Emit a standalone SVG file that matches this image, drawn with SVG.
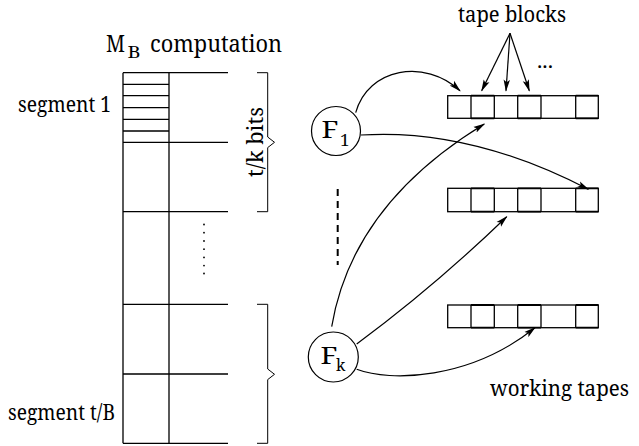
<svg xmlns="http://www.w3.org/2000/svg" width="639" height="446" viewBox="0 0 639 446">
<defs>
<marker id="ah" viewBox="0 0 12 8" refX="11" refY="4" markerWidth="12" markerHeight="8" markerUnits="userSpaceOnUse" orient="auto">
<path d="M0,0.8 L12,4 L0,7.2 L2.5,4 Z" fill="#000"/>
</marker>
</defs>
<style>
text{font-family:"Noto Serif","DejaVu Serif",serif;fill:#000}
.ln{stroke:#000;stroke-width:1.3;fill:none}
.th{stroke:#000;stroke-width:1;fill:none}
.cell{stroke:#000;stroke-width:1.3;fill:#fff}
.bold{stroke:#000;stroke-width:1.8;fill:none}
.con{stroke:#000;stroke-width:1.2;fill:none;marker-end:url(#ah)}
</style>
<rect width="639" height="446" fill="#fff"/>

<g id="table">
<text x="106" y="52" font-size="23" textLength="19" lengthAdjust="spacingAndGlyphs">M</text>
<text x="127.5" y="58" font-size="17" textLength="13" lengthAdjust="spacingAndGlyphs">B</text>
<text x="150" y="52" font-size="23" textLength="132" lengthAdjust="spacingAndGlyphs">computation</text>
<path class="ln" d="M123,72.7 V443.3 M169,72.7 V443.3"/>
<path class="ln" d="M123,72.7 H228 M123,84.3 H169 M123,95.7 H169 M123,107.7 H169 M123,119.3 H169 M123,131 H169 M123,142.3 H228 M123,211.7 H228 M123,304.3 H228 M123,374 H228 M123,443.3 H228"/>
<text x="18" y="112" font-size="22" textLength="93" lengthAdjust="spacingAndGlyphs">segment 1</text>
<text x="8" y="420" font-size="22" textLength="107" lengthAdjust="spacingAndGlyphs">segment t/B</text>
<g id="dots" fill="#000">
<circle cx="204" cy="224.5" r="0.9"/><circle cx="204" cy="232.7" r="0.9"/><circle cx="204" cy="241" r="0.9"/><circle cx="204" cy="249.2" r="0.9"/><circle cx="204" cy="257.4" r="0.9"/><circle cx="204" cy="265.6" r="0.9"/><circle cx="204" cy="273.5" r="0.9"/>
</g>
</g>

<g id="brace-top">
<path class="th" d="M257,72.7 H267.7 V137 L274.5,142.3 L267.7,147.6 V211.7 H257"/>
<text transform="translate(263,107) rotate(-90)" font-size="22" textLength="70" lengthAdjust="spacingAndGlyphs" x="-70" y="0">t/k bits</text>
</g>
<g id="brace-bottom">
<path class="th" d="M257,304.3 H267.7 V369 L274.5,374.3 L267.7,379.6 V443.3 H257"/>
</g>

<g id="F1">
<circle cx="336" cy="131" r="24.5" fill="#fff" stroke="#000" stroke-width="1.2"/>
<text x="321.5" y="138" font-size="24" textLength="17" lengthAdjust="spacingAndGlyphs">F</text>
<text x="340" y="146" font-size="17">1</text>
</g>
<g id="Fk">
<circle cx="333.3" cy="357" r="25" fill="#fff" stroke="#000" stroke-width="1.2"/>
<text x="320.5" y="364" font-size="24" textLength="17" lengthAdjust="spacingAndGlyphs">F</text>
<text x="336" y="371" font-size="16">k</text>
</g>
<path id="vdash" d="M337.7,189 V265" stroke="#000" stroke-width="2" stroke-dasharray="7,5" fill="none"/>

<g id="tape1">
<rect class="cell" x="447.7" y="95.7" width="150.6" height="22.6"/>
<path class="ln" d="M471,95.7 V118.3 M494.3,95.7 V118.3 M517.7,95.7 V118.3 M541,95.7 V118.3 M575.7,95.7 V118.3"/>
<path class="bold" d="M471,95.7 H494.3 M471,118.3 H494.3 M517.7,95.7 H541 M517.7,118.3 H541 M575.7,95.7 H598.3 M575.7,118.3 H598.3"/>
</g>
<g id="tape2">
<rect class="cell" x="447.7" y="188.3" width="150.6" height="23.4"/>
<path class="ln" d="M471,188.3 V211.7 M494.3,188.3 V211.7 M517.7,188.3 V211.7 M541,188.3 V211.7 M575.7,188.3 V211.7"/>
<path class="bold" d="M471,188.3 H494.3 M471,211.7 H494.3 M517.7,188.3 H541 M517.7,211.7 H541 M575.7,188.3 H598.3 M575.7,211.7 H598.3"/>
</g>
<g id="tape3">
<rect class="cell" x="447.7" y="305" width="150.6" height="22.7"/>
<path class="ln" d="M471,305 V327.7 M494.3,305 V327.7 M517.7,305 V327.7 M541,305 V327.7 M575.7,305 V327.7"/>
<path class="bold" d="M471,305 H494.3 M471,327.7 H494.3 M517.7,305 H541 M517.7,327.7 H541 M575.7,305 H598.3 M575.7,327.7 H598.3"/>
</g>

<g id="labels">
<text x="458" y="22" font-size="21" textLength="108" lengthAdjust="spacingAndGlyphs">tape blocks</text>
<text x="537" y="68" font-size="20" textLength="16" lengthAdjust="spacingAndGlyphs">...</text>
<text x="490" y="396" font-size="22" textLength="139" lengthAdjust="spacingAndGlyphs">working tapes</text>
</g>

<g id="connectors">
<path class="con" d="M510,33.3 L481.7,90.7"/>
<path class="con" d="M510,33.3 L506,90.7"/>
<path class="con" d="M510,33.3 L529.3,90.7"/>
<path class="con" d="M355.7,112.7 C368,68 425,58 460,90.7"/>
<path class="con" d="M361,135 Q470,128 588.3,189.3"/>
<path class="con" d="M331.7,326.7 Q352,204.7 484.3,124"/>
<path class="con" d="M356.7,344 Q435,286 506.7,216.7"/>
<path class="con" d="M356.7,369.3 C390,382 470,380 535,327.7"/>
</g>
</svg>
